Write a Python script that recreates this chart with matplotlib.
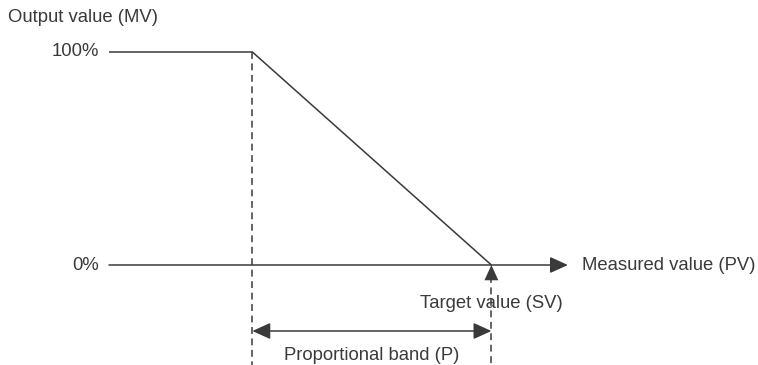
import matplotlib
matplotlib.use('Agg')
import matplotlib.pyplot as plt

plt.rcParams['font.family'] = ['Liberation Sans', 'DejaVu Sans']

# characteristic of proportional action (PV in arbitrary units, MV in %)
pv_points = [0, 30, 80]        # start of axis, start of band, target value (SV)
mv_points = [100, 100, 0]
pv_axis_end = 96
mv_levels = [100, 0]
mv_labels = ['100%', '0%']

title_y = 'Output value (MV)'
title_x = 'Measured value (PV)'
label_sv = 'Target value (SV)'
label_band = 'Proportional band (P)'

# layout: pixel mapping of the figure
W, H = 758, 365
x0_px, x_scale = 109, 4.78     # px of pv=0, px per pv unit
y0_px, y_scale = 265, 2.13     # px of mv=0, px per %

col = '#3a3a3a'
lw = 1.1
fs = 13.3

fig = plt.figure(figsize=(W / 100, H / 100), dpi=100)
ax = fig.add_axes([0, 0, 1, 1])
ax.set_xlim(-x0_px / x_scale, (W - x0_px) / x_scale)
ax.set_ylim((y0_px - H) / y_scale, y0_px / y_scale)
ax.axis('off')

def py(px):
    # vertical pixel (from top) -> mv units
    return (y0_px - px) / y_scale

def px(pxx):
    return (pxx - x0_px) / x_scale

head = '-|>,head_length=0.55,head_width=0.25'

# horizontal PV axis with arrow
ax.annotate('', xy=(pv_axis_end, 0), xytext=(pv_points[0], 0),
            arrowprops=dict(arrowstyle=head, color=col, lw=lw,
                            shrinkA=0, shrinkB=0, mutation_scale=20))

# characteristic line
ax.plot(pv_points, mv_points, color=col, lw=lw, solid_capstyle='butt')

# dashed guide lines
band_start, sv = pv_points[1], pv_points[2]
ax.plot([band_start, band_start], [mv_points[1], py(H)], color=col, lw=lw,
        linestyle=(0, (4.5, 3)))
ax.plot([sv, sv], [py(276), py(H)], color=col, lw=lw, linestyle=(0, (4.5, 3)))

# arrow pointing at SV
ax.annotate('', xy=(sv, 0), xytext=(sv, py(280)),
            arrowprops=dict(arrowstyle=head, color=col, lw=0,
                            shrinkA=0, shrinkB=0, mutation_scale=20))

# proportional band double arrow
ax.annotate('', xy=(sv, py(331)), xytext=(band_start, py(331)),
            arrowprops=dict(arrowstyle='<|-|>,head_length=0.55,head_width=0.25',
                            color=col, lw=lw, shrinkA=0, shrinkB=0, mutation_scale=20))

# texts
ax.text(px(8), py(18), title_y, ha='left', va='center', fontsize=fs, color=col)
for lv, lab in zip(mv_levels, mv_labels):
    ax.text(px(99), lv, lab, ha='right', va='center', fontsize=fs, color=col)
ax.text(px(582), 0, title_x, ha='left', va='center', fontsize=fs, color=col)
ax.text(sv, py(303), label_sv, ha='center', va='center', fontsize=fs, color=col)
ax.text((band_start + sv) / 2, py(355), label_band, ha='center', va='center',
        fontsize=fs, color=col)

fig.savefig('out.png', dpi=100)
